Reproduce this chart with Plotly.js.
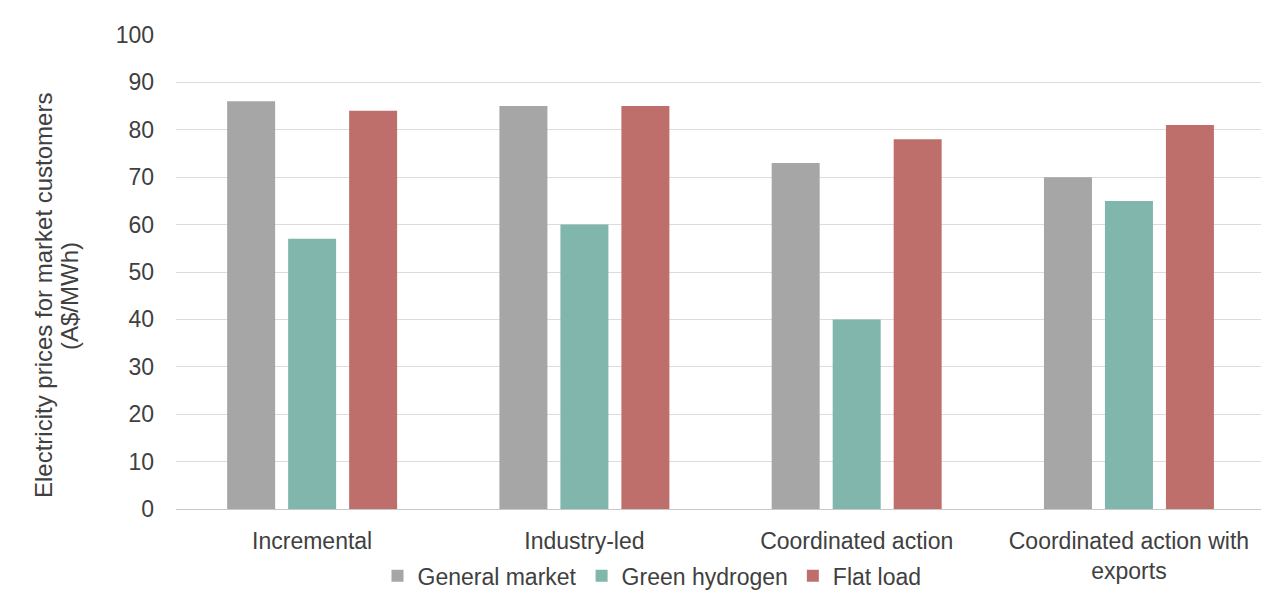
<!DOCTYPE html>
<html>
<head>
<meta charset="utf-8">
<script src="https://cdn.plot.ly/plotly-3.0.1.min.js"></script>
<style>html,body{margin:0;padding:0;background:#fff;}#chart{width:1261px;height:603px;}</style>
</head>
<body>
<div id="chart"></div>
<script>
const categories = ["Incremental", "Industry-led", "Coordinated action", "Coordinated action with<br>exports"];
const generalMarket = [86, 85, 73, 70];
const greenHydrogen = [57, 60, 40, 65];
const flatLoad = [84, 85, 78, 81];
const seriesNames = ["General market", "Green hydrogen", "Flat load"];
const yTicks = [0, 10, 20, 30, 40, 50, 60, 70, 80, 90, 100];
const yTitleLines = ["Electricity prices for market customers", "(A$/MWh)"];

const colors = ["#a6a6a6", "#80b6ac", "#bf6f6b"];
const values = [generalMarket, greenHydrogen, flatLoad];

const traces = values.map((v, i) => ({
  type: "bar",
  x: categories,
  y: v,
  name: seriesNames[i],
  marker: {color: colors[i]},
  hoverinfo: "none"
}));

const fam = "Liberation Sans, Arial, sans-serif";
const font = {family: fam, size: 23, color: "#404040"};
const titleFont = {family: fam, size: 24, color: "#404040"};

const layout = {
  width: 1261,
  height: 603,
  margin: {l: 176, r: 0, t: 35, b: 94},
  paper_bgcolor: "#ffffff",
  plot_bgcolor: "#ffffff",
  font: font,
  barmode: "group",
  bargap: 0.328,
  bargroupgap: 0.213,
  showlegend: true,
  legend: {
    orientation: "h",
    x: 0.4387, xanchor: "center",
    y: -0.141, yanchor: "middle",
    font: font,
    itemwidth: 30,
    tracegroupgap: 0
  },
  xaxis: {
    type: "category",
    range: [-0.5, 3.485],
    showgrid: false,
    showline: false,
    ticks: "",
    ticklabelstandoff: 16,
    tickfont: font,
    zeroline: false
  },
  yaxis: {
    range: [0, 100],
    tickvals: yTicks,
    ticktext: yTicks.map(String),
    showgrid: true,
    gridcolor: "#dcdcdc",
    gridwidth: 1,
    zeroline: true,
    zerolinecolor: "#c8c8c8",
    zerolinewidth: 1,
    showline: false,
    ticks: "",
    ticklabelstandoff: 21,
    tickfont: font
  },
  annotations: yTitleLines.map((t, i) => ({
    text: t,
    textangle: -90,
    xref: "paper", yref: "paper",
    x: (43 + 26 * i - 176) / 1085,
    y: (509 - 296) / 474,
    xanchor: "center", yanchor: "middle",
    showarrow: false,
    font: titleFont
  }))
};

Plotly.newPlot("chart", traces, layout, {displayModeBar: false, staticPlot: true});
</script>
</body>
</html>
